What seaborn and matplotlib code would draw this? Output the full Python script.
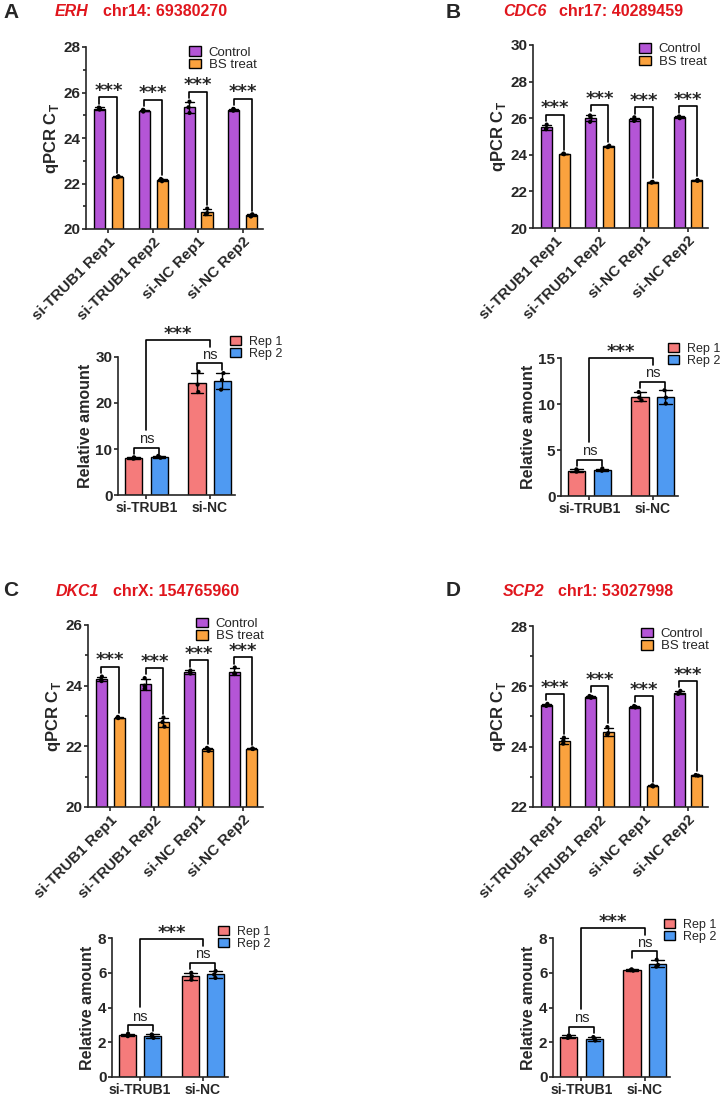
import numpy as np
import pandas as pd
import seaborn as sns
import matplotlib.pyplot as plt
from matplotlib.patches import Patch
from matplotlib.ticker import MultipleLocator

samples = ["si-TRUB1 Rep1", "si-TRUB1 Rep2", "si-NC Rep1", "si-NC Rep2"]
treats = ["Control", "BS treat"]
groups = ["si-TRUB1", "si-NC"]
reps = ["Rep 1", "Rep 2"]

letters = ["A", "B", "C", "D"]
genes = ["ERH", "CDC6", "DKC1", "SCP2"]
loci = ["chr14: 69380270", "chr17: 40289459", "chrX: 154765960", "chr1: 53027998"]

# qPCR CT, three replicates per sample (order as in samples)
erh_ctrl = [[25.25, 25.30, 25.34], [25.16, 25.22, 25.24], [25.60, 25.35, 25.10], [25.20, 25.27, 25.28]]
erh_bs = [[22.28, 22.30, 22.32], [22.10, 22.20, 22.15], [20.90, 20.65, 20.70], [20.65, 20.60, 20.55]]
cdc6_ctrl = [[25.65, 25.45, 25.40], [26.15, 25.80, 26.05], [26.05, 25.90, 25.85], [26.10, 26.05, 26.00]]
cdc6_bs = [[24.05, 24.07, 24.03], [24.50, 24.45, 24.42], [22.50, 22.52, 22.48], [22.60, 22.62, 22.58]]
dkc1_ctrl = [[24.30, 24.20, 24.15], [24.25, 24.00, 23.90], [24.50, 24.45, 24.40], [24.60, 24.40, 24.40]]
dkc1_bs = [[22.97, 22.95, 22.93], [22.95, 22.80, 22.65], [21.95, 21.90, 21.85], [21.93, 21.92, 21.91]]
scp2_ctrl = [[25.42, 25.38, 25.35], [25.68, 25.65, 25.62], [25.35, 25.32, 25.30], [25.85, 25.78, 25.75]]
scp2_bs = [[24.30, 24.20, 24.10], [24.65, 24.45, 24.40], [22.72, 22.70, 22.68], [23.06, 23.05, 23.04]]

# relative amount, three replicates for [si-TRUB1, si-NC]
erh_rep1 = [[8.2, 8.0, 7.9], [26.8, 24.0, 22.4]]
erh_rep2 = [[8.5, 8.3, 8.1], [26.5, 25.0, 22.9]]
cdc6_rep1 = [[2.9, 2.7, 2.65], [11.3, 10.7, 10.4]]
cdc6_rep2 = [[3.0, 2.8, 2.75], [11.5, 10.7, 10.05]]
dkc1_rep1 = [[2.5, 2.4, 2.35], [6.0, 5.8, 5.6]]
dkc1_rep2 = [[2.45, 2.35, 2.25], [6.1, 5.9, 5.7]]
scp2_rep1 = [[2.4, 2.3, 2.25], [6.2, 6.15, 6.12]]
scp2_rep2 = [[2.3, 2.2, 2.1], [6.75, 6.45, 6.35]]

top_ylims = [(20, 28), (20, 30), (20, 26), (22, 28)]
top_minor = [True, False, True, True]
bottom_ylims = [(0, 30), (0, 15), (0, 8), (0, 8)]
bottom_steps = [10, 5, 2, 2]

PURPLE = "#B455D6"
ORANGE = "#FBA23E"
SALMON = "#F57B7B"
BLUE = "#4F9AF2"
RED = "#E0161D"

W, H = 722, 1096

sns.set_style("ticks")
plt.rcParams['font.family'] = ['Liberation Sans', 'DejaVu Sans']
plt.rcParams['mathtext.fontset'] = 'custom'
plt.rcParams['mathtext.rm'] = 'Liberation Sans'
plt.rcParams['mathtext.bf'] = 'Liberation Sans:bold'
np.random.seed(3)

fig = plt.figure(figsize=(W / 100, H / 100), dpi=100)


def px_box(x0, y0, x1, y1):
    return [x0 / W, 1 - y1 / H, (x1 - x0) / W, (y1 - y0) / H]


def fig_xy(x, y):
    return (x / W, 1 - y / H)


def top_of(vals):
    return max(np.mean(vals) + np.std(vals, ddof=1), max(vals))


def stars(ax, x, y):
    ax.annotate("***", (x, y), xytext=(0, -2), textcoords="offset points",
                ha="center", va="bottom", fontsize=13, fontweight="bold",
                family="DejaVu Sans", annotation_clip=False)


def style_axes(ax):
    sns.despine(ax=ax)
    for s in ["left", "bottom"]:
        ax.spines[s].set_linewidth(1.2)
    ax.tick_params(axis="both", which="major", width=1.2, length=3, labelsize=11, pad=1)
    ax.tick_params(axis="y", which="minor", width=1.2, length=2)
    for lab in ax.get_yticklabels():
        lab.set_fontweight("bold")


def add_legend(ax, colors, labels, xy, size):
    handles = [Patch(facecolor=c, edgecolor="black", linewidth=1.0) for c in colors]
    ax.legend(handles, labels, loc="center left", bbox_to_anchor=fig_xy(*xy),
              bbox_transform=fig.transFigure, frameon=False, fontsize=size,
              handlelength=0.9, handleheight=0.75, handletextpad=0.6,
              labelspacing=0.0, borderpad=0, borderaxespad=0)


def draw_top(ax, ctrl, bs, ylim, minor, leg_xy):
    rows = []
    for s, cv, bv in zip(samples, ctrl, bs):
        rows += [(s, "Control", v) for v in cv]
        rows += [(s, "BS treat", v) for v in bv]
    df = pd.DataFrame(rows, columns=["sample", "treat", "ct"])
    sns.barplot(data=df, x="sample", y="ct", hue="treat", order=samples, hue_order=treats,
                palette=[PURPLE, ORANGE], saturation=1, errorbar="sd", capsize=0.4,
                width=0.8, gap=0.38, edgecolor="black", linewidth=1.0,
                err_kws={"color": "black", "linewidth": 1.0}, legend=False, ax=ax)
    sns.stripplot(data=df, x="sample", y="ct", hue="treat", order=samples, hue_order=treats,
                  dodge=True, palette=["black", "black"], size=3, jitter=0.06,
                  legend=False, ax=ax)
    R = ylim[1] - ylim[0]
    for i in range(len(samples)):
        tc = top_of(ctrl[i])
        tb = top_of(bs[i])
        yb = tc + 0.055 * R
        ax.plot([i - 0.2, i - 0.2, i + 0.2, i + 0.2], [tc + 0.02 * R, yb, yb, tb + 0.02 * R],
                color="black", lw=1.2, clip_on=False)
        stars(ax, i, yb)
    ax.set_ylim(ylim)
    ax.set_xlim(-0.5, 3.45)
    ax.yaxis.set_major_locator(MultipleLocator(2))
    if minor:
        ax.yaxis.set_minor_locator(MultipleLocator(1))
    ax.set_xlabel("")
    ax.set_ylabel(r"qPCR C$_\mathbf{T}$", fontsize=12, fontweight="bold", labelpad=2)
    style_axes(ax)
    ax.set_xticks(range(len(samples)))
    ax.set_xticklabels(samples, rotation=45, ha="right", rotation_mode="anchor",
                       fontsize=11, fontweight="bold")
    add_legend(ax, [PURPLE, ORANGE], treats, leg_xy, 9.5)


def draw_bottom(ax, rep1, rep2, ylim, step, leg_xy):
    rows = []
    for g, r1, r2 in zip(groups, rep1, rep2):
        rows += [(g, "Rep 1", v) for v in r1]
        rows += [(g, "Rep 2", v) for v in r2]
    df = pd.DataFrame(rows, columns=["group", "rep", "amount"])
    sns.barplot(data=df, x="group", y="amount", hue="rep", order=groups, hue_order=reps,
                palette=[SALMON, BLUE], saturation=1, errorbar="sd", capsize=0.4,
                width=0.8, gap=0.32, edgecolor="black", linewidth=1.0,
                err_kws={"color": "black", "linewidth": 1.0}, legend=False, ax=ax)
    sns.stripplot(data=df, x="group", y="amount", hue="rep", order=groups, hue_order=reps,
                  dodge=True, palette=["black", "black"], size=3, jitter=0.05,
                  legend=False, ax=ax)
    R = ylim[1] - ylim[0]
    ns_y = []
    for j in range(len(groups)):
        y = max(top_of(rep1[j]), top_of(rep2[j])) + 0.06 * R
        ns_y.append(y)
        ax.plot([j - 0.2, j - 0.2, j + 0.2, j + 0.2], [y - 0.045 * R, y, y, y - 0.045 * R],
                color="black", lw=1.2, clip_on=False)
        ax.text(j, y + 0.012 * R, "ns", ha="center", va="bottom", fontsize=10.5)
    yb = ns_y[1] + 0.17 * R
    ax.plot([0, 0, 1, 1], [ns_y[0] + 0.13 * R, yb, yb, ns_y[1] + 0.12 * R],
            color="black", lw=1.2, clip_on=False)
    stars(ax, 0.5, yb)
    ax.set_ylim(ylim)
    ax.set_xlim(-0.45, 1.4)
    ax.yaxis.set_major_locator(MultipleLocator(step))
    ax.set_xlabel("")
    ax.set_ylabel("Relative amount", fontsize=11.5, fontweight="bold", labelpad=2)
    style_axes(ax)
    ax.tick_params(axis="x", length=3, pad=1)
    ax.set_xticks(range(len(groups)))
    ax.set_xticklabels(groups, fontsize=10, fontweight="bold")
    add_legend(ax, [SALMON, BLUE], reps, leg_xy, 9)


top_boxes = [(86, 47, 263, 229), (533, 45, 708, 228), (88, 625, 263, 807), (533, 626, 708, 807)]
bottom_boxes = [(118, 357, 235, 495), (561, 358, 678, 496), (112, 938, 228, 1077), (553, 938, 670, 1077)]
top_legs = [(189, 58.5), (639, 55.5), (196, 630), (641, 640)]
bottom_legs = [(230, 348), (668, 355), (218, 937.5), (664, 931)]
letter_pos = [(3, 13), (446, 12), (3, 591), (446, 591)]
gene_pos = [(55, 12), (503, 12), (56, 591), (503, 591)]
locus_x = [103, 559, 113, 558]

ctrl_sets = [erh_ctrl, cdc6_ctrl, dkc1_ctrl, scp2_ctrl]
bs_sets = [erh_bs, cdc6_bs, dkc1_bs, scp2_bs]
rep1_sets = [erh_rep1, cdc6_rep1, dkc1_rep1, scp2_rep1]
rep2_sets = [erh_rep2, cdc6_rep2, dkc1_rep2, scp2_rep2]

for k in range(4):
    ax_t = fig.add_axes(px_box(*top_boxes[k]))
    draw_top(ax_t, ctrl_sets[k], bs_sets[k], top_ylims[k], top_minor[k], top_legs[k])
    ax_b = fig.add_axes(px_box(*bottom_boxes[k]))
    draw_bottom(ax_b, rep1_sets[k], rep2_sets[k], bottom_ylims[k], bottom_steps[k], bottom_legs[k])

    fig.text(*fig_xy(*letter_pos[k]), letters[k], ha="left", va="center",
             fontsize=15, fontweight="bold")
    fig.text(*fig_xy(*gene_pos[k]), genes[k], ha="left", va="center", color=RED,
             fontsize=11.5, fontweight="bold", style="italic")
    fig.text(*fig_xy(locus_x[k], gene_pos[k][1]), loci[k], ha="left", va="center", color=RED,
             fontsize=11.5, fontweight="bold")

fig.savefig("out.png", dpi=100)
